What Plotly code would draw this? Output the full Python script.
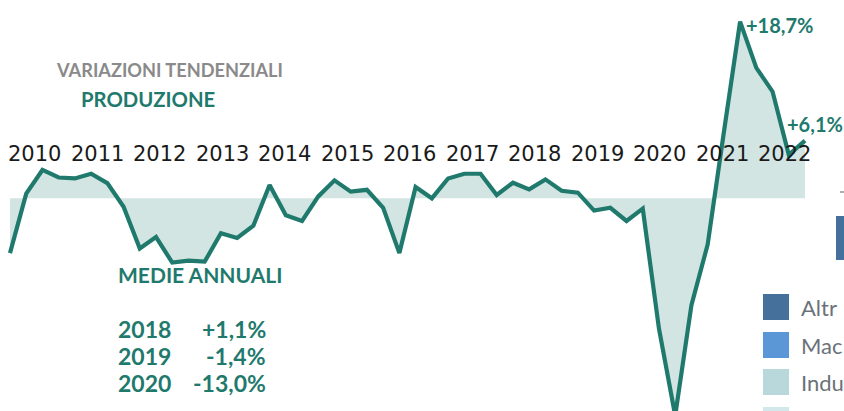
import plotly.graph_objects as go

# ---------------- data ----------------
quarters = [f"{y}-T{q}" for y in range(2010, 2023) for q in range(1, 5)][:50]
produzione = [
    -5.8, 0.5, 3.0, 2.2, 2.1, 2.6, 1.6, -0.9,
    -5.3, -4.1, -6.8, -6.6, -6.7, -3.7, -4.2, -2.9,
    1.4, -1.8, -2.4, 0.2, 1.9, 0.7, 0.9, -1.0,
    -5.8, 1.2, 0.0, 2.1, 2.6, 2.6, 0.35, 1.65,
    0.95, 2.0, 0.8, 0.6, -1.3, -1.0, -2.4, -1.1,
    -13.8, -23.0, -11.3, -4.9, 7.0, 18.7, 13.8, 11.3,
    4.6, 6.1,
]
year_labels = list(range(2010, 2023))
medie_anni = ["2018", "2019", "2020"]
medie_valori = [1.1, -1.4, -13.0]
legend_items = ["Altr", "Mac", "Indu"]
legend_colors = ["#46709c", "#5b97d6", "#b9d8dc", "#d3e8ea"]

# ---------------- styles ----------------
W, H = 844, 411
TEAL = "#1f7a6d"
FILL = "#d3e5e2"
HEAD = "Lato, Roboto, sans-serif"


def px(x):
    return x / W


def py(y):
    return 1 - y / H


def fmt(v):
    s = f"{abs(v):.1f}".replace(".", ",")
    return ("+" if v > 0 else "-") + s + "%"


idx = list(range(len(produzione)))

fig = go.Figure()
fig.add_trace(go.Scatter(
    x=idx, y=produzione, mode="lines", fill="tozeroy",
    fillcolor=FILL, line=dict(color=TEAL, width=4.2),
    hoverinfo="skip", showlegend=False, cliponaxis=True,
))

annotations = []
# peak and last value labels
annotations.append(dict(x=idx[45], y=produzione[45], xref="x", yref="y",
                        text="<b>" + fmt(produzione[45]) + "</b>", showarrow=False,
                        xanchor="left", yanchor="middle", xshift=4, yshift=-3,
                        font=dict(family=HEAD, size=20, color=TEAL)))
annotations.append(dict(x=idx[-1], y=produzione[-1], xref="x", yref="y",
                        text="<b>" + fmt(produzione[-1]) + "</b>", showarrow=False,
                        xanchor="center", yanchor="bottom", xshift=10, yshift=3,
                        font=dict(family=HEAD, size=20, color=TEAL)))

# year labels on a separate linear scale
for yr in year_labels:
    annotations.append(dict(x=yr, y=py(154), xref="x2", yref="paper",
                            text=str(yr), showarrow=False,
                            xanchor="center", yanchor="middle",
                            font=dict(family="DejaVu Sans", size=21, color="#1a1a1a")))

# titles
annotations.append(dict(x=px(54), y=py(70), xref="paper", yref="paper",
                        text="<b>VARIAZIONI TENDENZIALI</b>", showarrow=False,
                        xanchor="left", yanchor="middle",
                        font=dict(family=HEAD, size=18.2, color="#8a8a8a")))
annotations.append(dict(x=px(79), y=py(99), xref="paper", yref="paper",
                        text="<b>PRODUZIONE</b>", showarrow=False,
                        xanchor="left", yanchor="middle",
                        font=dict(family=HEAD, size=20.3, color=TEAL)))
annotations.append(dict(x=px(116), y=py(274), xref="paper", yref="paper",
                        text="<b>MEDIE ANNUALI</b>", showarrow=False,
                        xanchor="left", yanchor="middle",
                        font=dict(family=HEAD, size=21, color=TEAL)))
row_y = [329, 356, 383]
for anno, val, yy in zip(medie_anni, medie_valori, row_y):
    annotations.append(dict(x=px(116), y=py(yy), xref="paper", yref="paper",
                            text="<b>" + anno + "</b>", showarrow=False,
                            xanchor="left", yanchor="middle",
                            font=dict(family=HEAD, size=23, color=TEAL)))
    annotations.append(dict(x=px(268), y=py(yy), xref="paper", yref="paper",
                            text="<b>" + fmt(val) + "</b>", showarrow=False,
                            xanchor="right", yanchor="middle",
                            font=dict(family=HEAD, size=23, color=TEAL)))

# legend fragment of neighbouring chart
shapes = []
sq_top = [294, 332, 369, 407]
for col, top in zip(legend_colors, sq_top):
    shapes.append(dict(type="rect", xref="paper", yref="paper",
                       x0=px(763), x1=px(789), y0=py(top + 26), y1=py(top),
                       fillcolor=col, line=dict(width=0), layer="above"))
for name, top in zip(legend_items, sq_top):
    annotations.append(dict(x=px(799), y=py(top + 13), xref="paper", yref="paper",
                            text=name, showarrow=False, xanchor="left", yanchor="middle",
                            font=dict(family="Lato", size=22, color="#6b7279")))
shapes.append(dict(type="rect", xref="paper", yref="paper",
                   x0=px(836), x1=px(846), y0=py(260), y1=py(216),
                   fillcolor="#46709c", line=dict(width=0)))
shapes.append(dict(type="line", xref="paper", yref="paper",
                   x0=px(840), x1=px(844), y0=py(192), y1=py(192),
                   line=dict(color="#777777", width=1.2)))

x_lo = -10 / (795 / 49)
x_hi = (W - 10) / (795 / 49)
y_top = 198.3 / 9.45
y_bot = -(H - 198.3) / 9.45

fig.update_layout(
    width=W, height=H,
    margin=dict(l=0, r=0, t=0, b=0),
    paper_bgcolor="white", plot_bgcolor="white",
    xaxis=dict(range=[x_lo, x_hi], visible=False, fixedrange=True),
    xaxis2=dict(range=[2010 - 34.8 / 62.5, 2010 + (W - 34.8) / 62.5],
                overlaying="x", visible=False, fixedrange=True),
    yaxis=dict(range=[y_bot, y_top], visible=False, fixedrange=True),
    annotations=annotations,
    shapes=shapes,
    showlegend=False,
)

fig.write_html(
    "out.html",
    config={"displayModeBar": False},
    post_script="document.body.style.margin='0';document.body.style.overflow='hidden';",
)
